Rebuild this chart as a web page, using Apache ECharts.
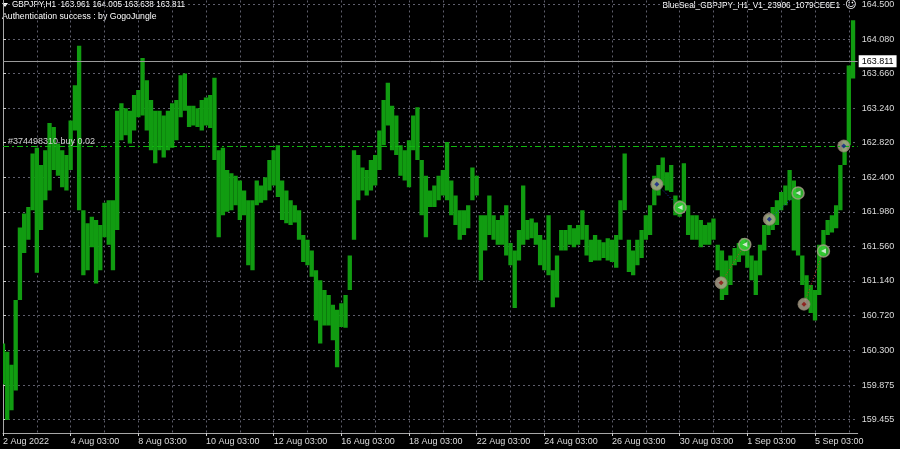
<!DOCTYPE html>
<html><head><meta charset="utf-8">
<script src="https://cdn.jsdelivr.net/npm/echarts@6/dist/echarts.min.js"></script>
<style>html,body{margin:0;padding:0;background:#000;overflow:hidden}#c{width:900px;height:449px}</style>
</head><body><div id="c"></div>
<script>
// GBPJPY H1 — each entry is one 3-hour column (high / low)
const highs = [160.38,160.28,160.12,160.91,161.79,161.96,162.04,162.69,162.76,162.55,
162.73,163.06,163.01,162.81,162.73,162.67,163.09,163.52,164.00,162.00,
161.84,161.92,161.88,161.82,162.09,162.12,162.12,163.21,163.30,163.24,
163.21,163.40,163.46,163.85,163.58,163.34,163.21,163.21,163.15,163.21,
163.30,163.34,163.64,163.66,163.27,163.27,163.24,163.34,163.37,163.40,
163.61,162.73,162.76,162.49,162.45,162.42,162.36,162.24,162.12,162.12,
162.36,162.30,162.40,162.61,162.73,162.79,162.36,162.24,162.12,162.06,
162.00,161.70,161.64,161.51,161.27,161.15,161.03,160.97,160.85,160.79,
160.87,160.97,161.45,162.73,162.67,162.52,162.49,162.61,162.67,162.97,
163.34,163.55,163.27,163.15,162.79,162.73,162.85,163.15,163.25,162.61,
162.42,162.24,162.30,162.42,162.49,162.83,162.36,162.18,162.00,162.00,
162.06,162.52,162.42,161.94,161.94,162.18,161.94,161.88,161.94,162.06,
161.60,161.51,161.76,162.30,161.88,161.90,161.85,161.70,161.64,161.94,
161.27,161.45,161.76,161.76,161.82,161.78,161.82,162.00,161.82,161.64,
161.70,161.64,161.61,161.66,161.64,161.70,162.12,162.69,161.64,161.51,
161.64,161.76,161.94,162.06,162.42,162.55,162.64,162.46,162.55,162.18,
162.12,162.57,162.06,161.94,161.94,161.88,161.82,161.85,161.90,161.58,
161.51,161.39,161.45,161.54,161.60,161.66,161.58,161.45,161.39,161.58,
161.82,161.94,162.04,162.12,162.22,162.30,162.49,162.36,162.18,161.45,
161.21,161.09,161.03,161.58,161.76,161.88,161.94,162.06,162.55,162.85,
163.76,164.31];
const lows = [159.88,159.45,159.57,159.81,160.91,161.48,161.64,162.00,161.24,161.76,
162.12,162.24,162.49,162.42,162.28,162.24,162.49,162.97,162.00,161.21,
161.27,161.55,161.11,161.27,161.67,161.58,161.27,161.76,162.85,162.91,
162.81,162.97,163.13,163.15,162.97,162.73,162.57,162.73,162.64,162.73,
162.76,162.85,163.13,163.21,163.01,163.03,163.01,162.97,163.03,163.00,
162.61,161.67,161.94,161.98,162.00,162.06,161.88,161.94,161.33,161.27,
162.06,162.09,162.12,162.24,162.30,162.16,161.88,161.84,161.82,161.85,
161.64,161.37,161.33,161.19,160.66,160.38,160.60,160.60,160.42,160.09,
160.58,160.57,161.03,161.64,162.12,162.24,162.18,162.24,162.30,162.49,
162.79,163.03,162.73,162.67,162.42,162.36,162.28,162.73,162.61,161.94,
161.67,162.04,162.04,162.12,162.18,162.12,161.94,161.82,161.64,161.70,
161.78,162.12,162.18,161.15,161.51,161.70,161.64,161.58,161.58,161.45,
161.33,160.81,161.39,161.58,161.64,161.66,161.58,161.33,161.27,161.21,
160.82,160.94,161.51,161.51,161.58,161.55,161.58,161.64,161.45,161.37,
161.39,161.39,161.42,161.39,161.37,161.30,161.64,162.00,161.25,161.21,
161.33,161.42,161.64,161.70,162.06,162.18,162.30,162.24,162.22,161.94,
161.92,162.00,161.70,161.64,161.64,161.55,161.58,161.58,161.64,161.27,
160.91,160.97,161.09,161.33,161.37,161.45,161.30,161.15,160.97,161.21,
161.51,161.70,161.76,161.82,162.00,162.06,162.12,161.51,161.45,161.09,
160.91,160.75,160.66,160.97,161.45,161.70,161.73,161.78,162.00,162.55,
162.79,163.60];

const xLabels = ['2 Aug 2022','4 Aug 03:00','8 Aug 03:00','10 Aug 03:00','12 Aug 03:00','16 Aug 03:00','18 Aug 03:00','22 Aug 03:00','24 Aug 03:00','26 Aug 03:00','30 Aug 03:00','1 Sep 03:00','5 Sep 03:00'];
const xLabelBars = [0,16,32,48,64,80,96,112,128,144,160,176,192];
const xGridBars = [0,8,16,24,32,40,48,56,64,72,80,88,96,104,112,120,128,136,144,152,160,168,176,184,192,200];
const yTicks = [159.455,159.875,160.300,160.720,161.140,161.560,161.980,162.400,162.820,163.240,163.660,164.080,164.500];

const entryBars = [154.6,169.8,181.2,189.4,198.8];
const entryPrices = [162.315,161.117,161.890,160.858,162.780];
const entrySides = ['buy','sell','buy','sell','buy'];
const exitBars = [160.1,175.4,188.0,194.0];
const exitPrices = [162.032,161.583,162.210,161.505];

const symbolName = 'GBPJPY,H1';
const lastOHLC = ['163.961','164.005','163.638','163.811'];
const currentPrice = 163.811;
const orderPrice = 162.78;
const orderLabel = '#374498310 buy 0.02';
const eaName = 'BlueSeal_GBPJPY_H1_V1_23906_1079CE6E1';
const authText = 'Authentication success : by GogoJungle';

const FONT = 'Liberation Sans';
const chart = echarts.init(document.getElementById('c'), null, {renderer:'canvas'});

const barData = highs.map((h,i)=>[i, lows[i], h]);
const entryData = entryBars.map((b,i)=>[b, entryPrices[i]]);
const exitData = exitBars.map((b,i)=>[b, exitPrices[i]]);
const tradeLines = exitBars.map((b,i)=>({
  coords:[[entryBars[i], entryPrices[i]],[b, exitPrices[i]]],
  lineStyle:{color: entrySides[i]==='buy' ? '#2f4fd8' : '#d03030'}
}));

const gridLine = {color:'#5f5f6c', width:1, type:[2,3]};

chart.setOption({
  backgroundColor:'#000000',
  animation:false,
  grid:{left:0, top:0, right:42.3, bottom:16, containLabel:false},
  xAxis:[{
    type:'value', min:0, max:202.1, position:'bottom',
    axisLine:{show:true, lineStyle:{color:'#a8a8a8', width:1}},
    axisTick:{show:true, length:3, inside:false, customValues:xLabelBars, lineStyle:{color:'#d0d0d0'}},
    axisLabel:{show:true, customValues:xLabelBars, align:'left', margin:4, color:'#dcdcdc', fontFamily:FONT, fontSize:9,
      formatter:(v)=>{const k=xLabelBars.indexOf(Math.round(v)); return k>=0?xLabels[k]:'';}},
    splitLine:{show:false}
  },{
    type:'value', min:0, max:202.1, position:'top',
    axisLine:{show:false}, axisLabel:{show:false},
    axisTick:{show:false, customValues:xGridBars},
    splitLine:{show:true, lineStyle:gridLine}
  }],
  yAxis:{
    type:'value', min:159.292, max:164.549, position:'right', scale:true,
    axisLine:{show:true, lineStyle:{color:'#a8a8a8', width:1}},
    axisTick:{show:true, length:3, customValues:yTicks, lineStyle:{color:'#d0d0d0'}},
    axisLabel:{show:true, customValues:yTicks, margin:4, color:'#dcdcdc', fontFamily:FONT, fontSize:9,
      formatter:(v)=>v.toFixed(3)},
    splitLine:{show:true, lineStyle:gridLine}
  },
  series:[{
    type:'custom', xAxisIndex:0, yAxisIndex:0, data:barData, clip:true,
    encode:{x:0, y:[1,2]},
    renderItem:(params, api)=>{
      const i = api.value(0);
      const top = api.coord([i, api.value(2)]);
      const bot = api.coord([i, api.value(1)]);
      const w = api.size([1,0])[0]*1.02;
      return {type:'rect', shape:{x:top[0]-w/2, y:top[1], width:w, height:Math.max(1, bot[1]-top[1])},
        style:{fill:'#119c11'}};
    },
    markLine:{
      silent:true, symbol:'none', animation:false,
      data:[
        {yAxis:currentPrice, lineStyle:{color:'#9a9a9a', type:'solid', width:1},
          label:{show:true, position:'end', distance:1, formatter:currentPrice.toFixed(3), color:'#000', backgroundColor:'#ffffff',
            padding:[2,3,1,3], fontFamily:FONT, fontSize:9}},
        {yAxis:orderPrice, lineStyle:{color:'#10b810', type:[6,3,2,3], width:1},
          label:{show:true, position:'insideStartTop', distance:[5,0], formatter:orderLabel, color:'#cfcfcf', fontFamily:FONT, fontSize:9}}
      ]
    }
  },{
    type:'lines', coordinateSystem:'cartesian2d', xAxisIndex:0, yAxisIndex:0, polyline:false, silent:true,
    lineStyle:{width:1, type:[1,2], opacity:0.9}, data:tradeLines, z:3
  },{
    type:'scatter', xAxisIndex:0, yAxisIndex:0, data:entryData, symbol:'circle', symbolSize:12, silent:true,
    itemStyle:{color:'#b3a792', borderColor:'#8a7f6c', borderWidth:1}, z:4
  },{
    type:'scatter', xAxisIndex:0, yAxisIndex:0, data:entryData.map((d,i)=>({value:d, itemStyle:{color: entrySides[i]==='buy' ? '#0c1f8c' : '#8c0c0c'}})),
    symbol:'diamond', symbolSize:5, silent:true, z:5
  },{
    type:'scatter', xAxisIndex:0, yAxisIndex:0, data:exitData, symbol:'circle', symbolSize:12, silent:true,
    itemStyle:{color:'#39d639', borderColor:'#a89c88', borderWidth:1.5}, z:4
  },{
    type:'scatter', xAxisIndex:0, yAxisIndex:0, data:exitData, symbol:'triangle', symbolRotate:90, symbolSize:5, silent:true,
    itemStyle:{color:'#f4f4f4'}, z:5
  }],
  graphic:[
    {type:'polygon', shape:{points:[[2,3],[8,3],[5,7]]}, style:{fill:'#ffffff'}, silent:true},
    {type:'text', left:12, top:1, style:{text:symbolName+'  '+lastOHLC.join(' '), fill:'#ffffff', font:'8.2px "'+FONT+'"'}, silent:true},
    {type:'text', left:2, top:12, style:{text:authText, fill:'#ffffff', font:'8.7px "'+FONT+'"'}, silent:true},
    {type:'text', right:60, top:1.5, style:{text:eaName, fill:'#ffffff', font:'8.3px "'+FONT+'"'}, silent:true},
    {type:'text', left:845, top:0, style:{text:'\u263A', fill:'#ffffff', font:'11px "DejaVu Sans"'}, silent:true}
  ]
});
</script></body></html>
